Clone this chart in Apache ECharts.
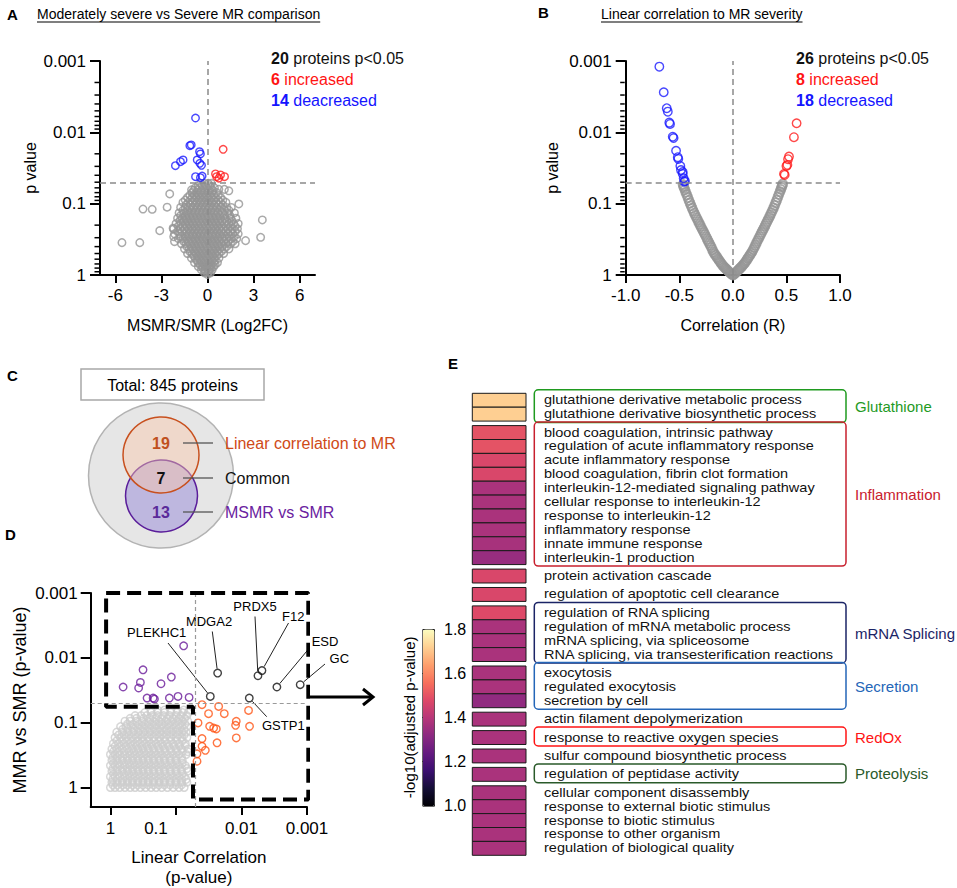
<!DOCTYPE html>
<html><head><meta charset="utf-8">
<script src="https://cdn.jsdelivr.net/npm/echarts@6/dist/echarts.min.js"></script>
<style>html,body{margin:0;padding:0;background:#fff}#main{width:957px;height:888px}</style>
</head><body><div id="main"></div>
<script>
// ---------------- DATA ----------------
// Panel A: [log2FC, p]
const aBlue = [[-0.78,0.0063],[-1.15,0.0154],[-1.06,0.015],[-0.52,0.0187],[-0.46,0.0201],[-0.67,0.0244],[-0.5,0.0272],[-0.39,0.029],[-2.09,0.0293],[-1.76,0.0258],[-1.59,0.0244],[-0.78,0.0418],[-0.35,0.041],[-0.46,0.0432]];
const aRed = [[1.02,0.0173],[0.52,0.0383],[0.85,0.0396],[1.11,0.0418],[0.74,0.044],[0.59,0.0418]];
const aGreyOutliers = [[-5.57,0.352],[-4.41,0.352],[-4.2,0.119],[-3.6,0.12],[-3.11,0.239],[-2.63,0.112],[-2.46,0.073],[-2.24,0.221],[-2.2,0.29],[-2.15,0.34],[3.57,0.169],[3.46,0.296],[2.48,0.33],[2.04,0.101],[1.39,0.066],[0.74,0.063],[-1.04,0.064],[1.1,0.063]];
// grey cloud, read as rows of points [p, [log2FC ...]]
const aGreyRows = [
 [0.052,[-0.45,-0.2,0.05,0.25]],
 [0.056,[-0.6,-0.35,-0.1,0.15]],
 [0.06,[-0.8,-0.55,-0.3,-0.05,0.2,0.45]],
 [0.065,[-0.9,-0.65,-0.4,-0.15,0.1,0.35]],
 [0.07,[-1.0,-0.7,-0.45,-0.2,0.05,0.3,0.6]],
 [0.076,[-1.15,-0.85,-0.6,-0.35,-0.1,0.15,0.4,0.7]],
 [0.082,[-1.3,-1.0,-0.75,-0.5,-0.25,0,0.25,0.5,0.85]],
 [0.089,[-1.45,-1.1,-0.85,-0.6,-0.35,-0.1,0.15,0.4,0.7,1.0]],
 [0.096,[-1.6,-1.25,-0.95,-0.7,-0.45,-0.2,0.05,0.3,0.55,0.85,1.2]],
 [0.104,[-1.4,-1.1,-0.8,-0.55,-0.3,-0.05,0.2,0.45,0.7,1.0]],
 [0.113,[-1.75,-1.45,-1.15,-0.9,-0.65,-0.4,-0.15,0.1,0.35,0.6,0.9,1.25,1.55]],
 [0.124,[-1.6,-1.3,-1.0,-0.75,-0.5,-0.25,0,0.25,0.5,0.8,1.1,1.4]],
 [0.135,[-1.85,-1.55,-1.3,-1.05,-0.8,-0.55,-0.3,-0.05,0.2,0.45,0.7,1.0,1.35,1.75]],
 [0.147,[-1.75,-1.45,-1.2,-0.95,-0.7,-0.45,-0.2,0.05,0.3,0.55,0.8,1.1,1.45]],
 [0.16,[-1.95,-1.65,-1.4,-1.15,-0.9,-0.65,-0.4,-0.15,0.1,0.35,0.6,0.85,1.15,1.5,1.85]],
 [0.175,[-1.8,-1.55,-1.3,-1.05,-0.8,-0.55,-0.3,-0.05,0.2,0.45,0.7,0.95,1.25,1.6]],
 [0.19,[-2.05,-1.75,-1.45,-1.2,-0.95,-0.7,-0.45,-0.2,0.05,0.3,0.55,0.8,1.1,1.4,1.7,2.0]],
 [0.207,[-1.9,-1.6,-1.35,-1.1,-0.85,-0.6,-0.35,-0.1,0.15,0.4,0.65,0.9,1.2,1.5,1.8]],
 [0.225,[-2.2,-1.8,-1.5,-1.25,-1.0,-0.75,-0.5,-0.25,0,0.25,0.5,0.75,1.0,1.3,1.6,1.95]],
 [0.245,[-1.95,-1.65,-1.35,-1.1,-0.85,-0.6,-0.35,-0.1,0.15,0.4,0.65,0.9,1.2,1.5,1.8]],
 [0.265,[-2.15,-1.8,-1.45,-1.2,-0.95,-0.7,-0.45,-0.2,0.05,0.3,0.55,0.8,1.05,1.35,1.65,2.0]],
 [0.287,[-1.75,-1.45,-1.2,-0.95,-0.7,-0.45,-0.2,0.05,0.3,0.55,0.8,1.1,1.4,1.75]],
 [0.31,[-1.9,-1.6,-1.3,-1.05,-0.8,-0.55,-0.3,-0.05,0.2,0.45,0.7,0.95,1.25,1.55,1.9]],
 [0.337,[-1.55,-1.25,-1.0,-0.75,-0.5,-0.25,0,0.25,0.5,0.75,1.05,1.35,1.65]],
 [0.365,[-1.7,-1.4,-1.1,-0.85,-0.6,-0.35,-0.1,0.15,0.4,0.65,0.9,1.2,1.5,1.8]],
 [0.397,[-1.35,-1.05,-0.8,-0.55,-0.3,-0.05,0.2,0.45,0.7,0.95,1.25]],
 [0.43,[-1.5,-1.2,-0.95,-0.7,-0.45,-0.2,0.05,0.3,0.55,0.8,1.1,1.4]],
 [0.465,[-1.15,-0.85,-0.6,-0.35,-0.1,0.15,0.4,0.65,0.9]],
 [0.5,[-1.3,-1.0,-0.75,-0.5,-0.25,0,0.25,0.5,0.75,1.05]],
 [0.54,[-0.9,-0.65,-0.4,-0.15,0.1,0.35,0.6]],
 [0.58,[-1.05,-0.8,-0.55,-0.3,-0.05,0.2,0.45,0.75]],
 [0.625,[-0.7,-0.45,-0.2,0.05,0.3,0.5]],
 [0.67,[-0.85,-0.6,-0.35,-0.1,0.15,0.4,0.65]],
 [0.715,[-0.5,-0.25,0,0.25,0.5]],
 [0.76,[-0.6,-0.35,-0.1,0.15,0.4]],
 [0.805,[-0.3,-0.05,0.2]],
 [0.85,[-0.4,-0.15,0.1,0.3]],
 [0.89,[-0.15,0.1]],
 [0.93,[-0.2,0.05,0.2]],
 [0.98,[0]]
];
const aCounts = ['20','6','14'];
const aCountTexts = [' proteins p<0.05',' increased',' deacreased'];

// Panel B: [R, p]
const bBlue = [[-0.686,0.0012],[-0.645,0.00274],[-0.617,0.00459],[-0.607,0.00513],[-0.593,0.00731],[-0.586,0.00762],[-0.561,0.0115],[-0.553,0.012],[-0.53,0.0181],[-0.514,0.0223],[-0.509,0.0236],[-0.49,0.0296],[-0.484,0.0337],[-0.468,0.0383],[-0.459,0.044],[-0.453,0.0491],[-0.447,0.048],[-0.468,0.036]];
const bRed = [[0.595,0.00745],[0.57,0.0117],[0.524,0.0219],[0.515,0.0238],[0.509,0.0286],[0.5,0.0296],[0.477,0.0383],[0.484,0.0395]];
const bGreyLeft = [[0,1.0],[-0.01,0.972],[-0.02,0.944],[-0.03,0.917],[-0.04,0.89],[-0.05,0.86],[-0.06,0.83],[-0.07,0.803],[-0.08,0.776],[-0.09,0.746],[-0.1,0.716],[-0.11,0.684],[-0.12,0.653],[-0.13,0.62],[-0.14,0.589],[-0.15,0.56],[-0.16,0.531],[-0.17,0.505],[-0.18,0.479],[-0.19,0.445],[-0.2,0.412],[-0.21,0.385],[-0.22,0.359],[-0.23,0.336],[-0.24,0.313],[-0.25,0.292],[-0.26,0.272],[-0.27,0.254],[-0.28,0.237],[-0.29,0.222],[-0.3,0.207],[-0.31,0.193],[-0.32,0.18],[-0.33,0.168],[-0.34,0.157],[-0.35,0.146],[-0.36,0.136],[-0.37,0.126],[-0.38,0.116],[-0.39,0.107],[-0.4,0.098],[-0.41,0.09],[-0.42,0.082],[-0.43,0.075],[-0.44,0.069],[-0.448,0.064],[-0.455,0.06],[-0.46,0.057],[-0.465,0.054]];
const bGreyRight = [[0.01,0.975],[0.02,0.95],[0.03,0.918],[0.04,0.885],[0.05,0.855],[0.06,0.825],[0.07,0.797],[0.08,0.77],[0.09,0.74],[0.1,0.71],[0.11,0.68],[0.12,0.65],[0.13,0.617],[0.14,0.585],[0.15,0.555],[0.16,0.525],[0.17,0.497],[0.18,0.47],[0.19,0.44],[0.2,0.41],[0.21,0.382],[0.22,0.355],[0.23,0.332],[0.24,0.31],[0.25,0.29],[0.26,0.27],[0.27,0.252],[0.28,0.235],[0.29,0.22],[0.3,0.205],[0.31,0.191],[0.32,0.178],[0.33,0.166],[0.34,0.155],[0.35,0.144],[0.36,0.134],[0.37,0.124],[0.38,0.115],[0.39,0.106],[0.4,0.097],[0.41,0.089],[0.42,0.081],[0.43,0.074],[0.44,0.068],[0.448,0.063],[0.455,0.059],[0.46,0.056],[0.465,0.053]];
const bCounts = ['26','8','18'];
const bCountTexts = [' proteins p<0.05',' increased',' decreased'];

// Panel C
const vennTotal = 845;
const vennCounts = [19, 7, 13];
const vennLabels = ['Linear correlation to MR', 'Common', 'MSMR vs SMR'];

// Panel D: [p (linear correlation), p (MMR vs SMR)]
const dPurple = [[0.0763,0.00653],[0.64,0.0282],[0.318,0.0153],[0.349,0.024],[0.371,0.0292],[0.169,0.0251],[0.1175,0.0198],[0.276,0.0417],[0.223,0.0417],[0.213,0.0432],[0.126,0.0417],[0.093,0.0394],[0.063,0.0408]];
const dCommonNames = ['PLEKHC1','MDGA2','PRDX5','F12','ESD','GC','GSTP1'];
const dCommon = [[0.0299,0.0394],[0.0231,0.0172],[0.0056,0.0189],[0.00487,0.0157],[0.00288,0.0282],[0.00127,0.026],[0.0076,0.0417]];
const dOrange = [[0.04,0.0528],[0.0223,0.0561],[0.0318,0.0727],[0.0183,0.0727],[0.046,0.101],[0.0306,0.114],[0.0266,0.121],[0.0242,0.125],[0.012,0.0955],[0.0123,0.11],[0.0078,0.0647],[0.00753,0.114],[0.04,0.176],[0.0236,0.205],[0.012,0.172],[0.04,0.232],[0.0356,0.267],[0.0477,0.303],[0.0477,0.394]];
// grey cloud as rows [p (MMR vs SMR), [p (linear) ...]]
const dGreyRows = [
 [1.0,[1.0,0.85,0.72,0.6,0.5,0.42,0.35,0.29,0.24,0.2,0.165,0.135,0.11,0.09,0.075]],
 [0.91,[0.92,0.78,0.65,0.55,0.46,0.385,0.32,0.265,0.22,0.182,0.15,0.123,0.1,0.082]],
 [0.83,[0.95,0.8,0.66,0.55,0.46,0.38,0.32,0.265,0.22,0.18,0.15,0.122,0.1,0.082,0.068]],
 [0.75,[0.92,0.78,0.65,0.55,0.46,0.385,0.32,0.265,0.22,0.182,0.15,0.123,0.1,0.082,0.07]],
 [0.68,[1.0,0.85,0.72,0.6,0.5,0.42,0.35,0.29,0.24,0.2,0.165,0.135,0.11,0.09,0.074]],
 [0.62,[0.9,0.75,0.62,0.52,0.44,0.37,0.31,0.26,0.215,0.178,0.147,0.12,0.098,0.08]],
 [0.56,[0.95,0.8,0.66,0.55,0.46,0.38,0.32,0.265,0.22,0.18,0.15,0.122,0.1,0.082,0.066]],
 [0.51,[0.92,0.78,0.65,0.55,0.46,0.385,0.32,0.265,0.22,0.182,0.15,0.123,0.1,0.082,0.068]],
 [0.46,[1.0,0.85,0.72,0.6,0.5,0.42,0.35,0.29,0.24,0.2,0.165,0.135,0.11,0.09,0.072]],
 [0.42,[0.9,0.75,0.62,0.52,0.44,0.37,0.31,0.26,0.215,0.178,0.147,0.12,0.098,0.08]],
 [0.38,[0.95,0.8,0.66,0.55,0.46,0.38,0.32,0.265,0.22,0.18,0.15,0.122,0.1,0.08]],
 [0.345,[0.92,0.78,0.65,0.55,0.46,0.385,0.32,0.265,0.22,0.182,0.15,0.123,0.1,0.082]],
 [0.31,[1.0,0.85,0.72,0.6,0.5,0.42,0.35,0.29,0.24,0.2,0.165,0.135,0.11,0.09,0.07]],
 [0.28,[0.9,0.75,0.62,0.52,0.44,0.37,0.31,0.26,0.215,0.178,0.147,0.12,0.098,0.08,0.066]],
 [0.255,[0.95,0.8,0.66,0.55,0.46,0.38,0.32,0.265,0.22,0.18,0.15,0.122,0.1,0.082,0.065]],
 [0.23,[0.85,0.7,0.58,0.48,0.4,0.33,0.275,0.23,0.19,0.157,0.13,0.107,0.088,0.072]],
 [0.21,[0.9,0.75,0.62,0.5,0.42,0.35,0.29,0.24,0.2,0.165,0.135,0.11,0.09,0.072]],
 [0.19,[0.8,0.66,0.55,0.46,0.38,0.315,0.26,0.215,0.178,0.147,0.12,0.098,0.08]],
 [0.17,[0.85,0.7,0.58,0.48,0.4,0.33,0.27,0.22,0.18,0.15,0.122,0.1,0.082,0.068]],
 [0.155,[0.75,0.62,0.52,0.43,0.36,0.3,0.245,0.2,0.165,0.137,0.112,0.092,0.075]],
 [0.14,[0.8,0.66,0.55,0.46,0.38,0.32,0.265,0.22,0.18,0.15,0.122,0.1,0.082,0.07]],
 [0.127,[0.65,0.54,0.44,0.36,0.3,0.245,0.2,0.165,0.137,0.112,0.092,0.075]],
 [0.115,[0.7,0.58,0.48,0.4,0.33,0.27,0.22,0.18,0.15,0.122,0.1,0.082,0.068]],
 [0.105,[0.55,0.45,0.37,0.3,0.245,0.2,0.163,0.133,0.109,0.089,0.073]],
 [0.095,[0.6,0.5,0.4,0.33,0.27,0.22,0.18,0.145,0.12,0.098,0.08,0.066]],
 [0.086,[0.5,0.4,0.31,0.25,0.2,0.165,0.135,0.11,0.09,0.074]],
 [0.078,[0.42,0.34,0.28,0.23,0.19,0.155,0.125,0.1,0.083,0.068]],
 [0.07,[0.3,0.24,0.19,0.15,0.12,0.097,0.079,0.065]],
 [0.064,[0.24,0.19,0.15,0.12,0.095,0.076,0.062]]
];
// outline of the "significant in either test" region, in -log10(p) units
const dRegionOutline = [[-0.066,3.0],[3.02,3.0],[3.02,-0.185],[1.26,-0.185],[1.26,1.246],[-0.066,1.246],[-0.066,3.0]];

// Panel E
const eTerms = [
 'glutathione derivative metabolic process','glutathione derivative biosynthetic process',
 'blood coagulation, intrinsic pathway','regulation of acute inflammatory response','acute inflammatory response',
 'blood coagulation, fibrin clot formation','interleukin-12-mediated signaling pathway','cellular response to interleukin-12',
 'response to interleukin-12','inflammatory response','innate immune response','interleukin-1 production',
 'protein activation cascade','regulation of apoptotic cell clearance',
 'regulation of RNA splicing','regulation of mRNA metabolic process','mRNA splicing, via spliceosome','RNA splicing, via transesterification reactions',
 'exocytosis','regulated exocytosis','secretion by cell',
 'actin filament depolymerization','response to reactive oxygen species','sulfur compound biosynthetic process','regulation of peptidase activity',
 'cellular component disassembly','response to external biotic stimulus','response to biotic stimulus','response to other organism','regulation of biological quality'];
const eValues = [1.72,1.72, 1.5,1.5,1.47,1.47,1.375,1.375,1.375,1.375,1.37,1.34, 1.47, 1.47, 1.48,1.375,1.375,1.375, 1.375,1.375,1.33, 1.375,1.375,1.375,1.375, 1.375,1.375,1.375,1.375,1.375];
const eBlockSizes = [2,10,1,1,4,3,1,1,1,1,5];
const eBlockLabels = ['Glutathione','Inflammation',null,null,'mRNA Splicing','Secretion',null,'RedOx',null,'Proteolysis',null];
const eScaleMin = 1.0, eScaleMax = 1.8;

// ---------------- STYLE / LAYOUT ----------------
const FONT = '"Liberation Sans", Arial, Helvetica, sans-serif';
const groupColors = {'Glutathione':'#1f9a1f','Inflammation':'#c8202e','mRNA Splicing':'#1b2466','Secretion':'#2466b8','RedOx':'#ff1414','Proteolysis':'#2a5a2a'};
const magma = ['#000004','#140e36','#3b0f70','#641a80','#8c2981','#b73779','#de4968','#f7705c','#fe9f6d','#fecf92','#fcfdbf'];
const E_GAP = 0.324;
const E_FONT = 14.5, E_SCALE_Y = 0.82;

const nl = p => -Math.log10(p);
const toLog = arr => arr.map(d => [d[0], nl(d[1])]);
const toLogXY = arr => arr.map(d => [nl(d[0]), nl(d[1])]);
const fmtP = v => { const k = Math.round(v); return Math.pow(10, -k).toFixed(Math.max(0, k)); };
const minorVals = [];
for (let k = 1; k <= 3; k++) for (let m = 2; m <= 9; m++) minorVals.push(k - Math.log10(m));

const aGrey = [];
aGreyRows.forEach(r => r[1].forEach(x => aGrey.push([x, nl(r[0])])));
toLog(aGreyOutliers).forEach(d => aGrey.push(d));
const bGrey = toLog(bGreyLeft.concat(bGreyRight));
const dGrey = [];
dGreyRows.forEach(r => r[1].forEach(x => dGrey.push([nl(x), nl(r[0])])));

// E row positions
const rowStart = []; const blockData = [];
let pos = 0;
eBlockSizes.forEach((n, bi) => {
  const s = pos;
  for (let i = 0; i < n; i++) { rowStart.push(pos); pos += 1; }
  blockData.push([1, s, pos]);
  if (bi < eBlockSizes.length - 1) pos += E_GAP;
});
const eTotal = pos;
const heatData = rowStart.map((y, i) => [0, y, eValues[i]]);

function lineAx(o) {
  return Object.assign({
    type: 'value', splitLine: {show: false},
    axisLine: {onZero: false, lineStyle: {color: '#000', width: 2}},
    nameTextStyle: {color: '#000', fontFamily: FONT, fontSize: 16}
  }, o);
}
const tickStyle = {color: '#000', width: 2};
const lab = (o) => Object.assign({color: '#000', fontSize: 17, fontFamily: FONT}, o);

const scatter = (xi, yi, data, color, size, z, bw) => ({
  type: 'scatter', xAxisIndex: xi, yAxisIndex: yi, data: data, symbol: 'circle', symbolSize: size,
  silent: true, z: z || 3,
  itemStyle: {color: 'rgba(0,0,0,0)', borderColor: color, borderWidth: bw || 1.4}
});
const refLines = (xi, yi, lines, color, dash, w) => ({
  type: 'line', xAxisIndex: xi, yAxisIndex: yi, data: [], z: 1, silent: true,
  markLine: {silent: true, symbol: ['none','none'], label: {show: false}, animation: false,
    lineStyle: {color: color, type: dash, width: w}, data: lines}
});

const chart = echarts.init(document.getElementById('main'), null, {renderer: 'svg'});
const option = {
  animation: false,
  backgroundColor: '#fff',
  textStyle: {fontFamily: FONT},
  grid: [
    {left: 100, top: 61, width: 215, height: 214},
    {left: 625.7, top: 61, width: 214.3, height: 214},
    {left: 90.7, top: 593, width: 216.3, height: 215},
    {left: 472.3, top: 393.3, width: 53.7, height: 462},
    {left: 422.3, top: 629, width: 11.7, height: 176.7}
  ],
  xAxis: [
    lineAx({gridIndex: 0, min: -7, max: 7,
      axisTick: {customValues: [-6,-3,0,3,6], length: 8, lineStyle: tickStyle},
      axisLabel: lab({customValues: [-6,-3,0,3,6], margin: 12}),
      name: 'MSMR/SMR (Log2FC)', nameLocation: 'middle', nameGap: 42}),
    lineAx({gridIndex: 1, min: -1, max: 1, interval: 0.5,
      axisTick: {length: 8, lineStyle: tickStyle},
      axisLabel: lab({margin: 12, formatter: v => v.toFixed(1)}),
      name: 'Correlation (R)', nameLocation: 'middle', nameGap: 42}),
    lineAx({gridIndex: 2, min: -0.301, max: 3,
      axisTick: {customValues: [0,1,2,3], length: 8, lineStyle: tickStyle},
      axisLabel: lab({customValues: [0,1,2,3], margin: 13,
        formatter: v => Math.round(v) === 1 ? '{s|' + fmtP(v) + '}' : fmtP(v),
        rich: {s: {padding: [0, 40, 0, 0], fontSize: 17, color: '#000', fontFamily: FONT}}}),
      name: 'Linear Correlation\n(p-value)', nameLocation: 'middle', nameGap: 40,
      nameTextStyle: {color: '#000', fontFamily: FONT, fontSize: 17, lineHeight: 20}}),
    {gridIndex: 3, type: 'value', min: 0, max: 1, show: false},
    {gridIndex: 4, type: 'value', min: 0, max: 1, show: false}
  ],
  yAxis: [
    lineAx({gridIndex: 0, min: 0, max: 3, interval: 1,
      axisTick: {length: 10, lineStyle: tickStyle},
      axisLabel: lab({margin: 14, formatter: fmtP}),
      name: 'p value', nameLocation: 'middle', nameGap: 62, nameRotate: 90}),
    lineAx({gridIndex: 1, min: 0, max: 3, interval: 1,
      axisTick: {length: 10, lineStyle: tickStyle},
      axisLabel: lab({margin: 14, formatter: fmtP}),
      name: 'p value', nameLocation: 'middle', nameGap: 65, nameRotate: 90}),
    lineAx({gridIndex: 2, min: -0.301, max: 3,
      axisTick: {customValues: [0,1,2,3], length: 10, lineStyle: tickStyle},
      axisLabel: lab({customValues: [0,1,2,3], margin: 13, formatter: fmtP}),
      name: 'MMR vs SMR (p-value)', nameLocation: 'middle', nameGap: 62, nameRotate: 90,
      nameTextStyle: {color: '#000', fontFamily: FONT, fontSize: 18}}),
    {gridIndex: 3, type: 'value', min: 0, max: eTotal, inverse: true, show: false},
    {gridIndex: 4, type: 'value', position: 'right', min: eScaleMin, max: eScaleMax, interval: 0.2,
      axisLine: {show: false, onZero: false}, axisTick: {show: false}, splitLine: {show: false},
      axisLabel: {color: '#000', fontSize: 16, fontFamily: FONT, margin: 10, formatter: v => v.toFixed(1)}},
    {gridIndex: 4, type: 'value', position: 'left', min: eScaleMin, max: eScaleMax,
      axisLine: {show: false, onZero: false}, axisLabel: {show: false}, splitLine: {show: false},
      axisTick: {inside: true, customValues: [1.2, 1.4, 1.6], length: 4, lineStyle: {color: '#111', width: 1}},
      name: '-log10(adjusted p-value)', nameLocation: 'middle', nameGap: 5, nameRotate: 90,
      nameTextStyle: {color: '#000', fontFamily: FONT, fontSize: 15}}
  ],
  visualMap: [{
    type: 'continuous', seriesIndex: 14, dimension: 2, min: eScaleMin, max: eScaleMax,
    inRange: {color: magma}, left: 422.3, top: 629, itemWidth: 11.7, itemHeight: 176.7,
    calculable: false, hoverLink: false, padding: 0, borderColor: '#222', borderWidth: 1,
    textStyle: {color: 'rgba(0,0,0,0)'}
  }],
  series: [
    refLines(0, 0, [{yAxis: nl(0.05)}, {xAxis: 0}], '#8a8a8a', [6, 4], 1.5),
    scatter(0, 0, aGrey, '#959595', 7.5, 2, 1.5),
    scatter(0, 0, toLog(aBlue), '#1a1aff', 7.5),
    scatter(0, 0, toLog(aRed), '#ff1a1a', 7.5),
    refLines(1, 1, [{yAxis: nl(0.05)}, {xAxis: 0}], '#8a8a8a', [6, 4], 1.5),
    scatter(1, 1, bGrey, '#959595', 9, 2, 1.8),
    scatter(1, 1, toLog(bBlue), '#1a1aff', 8.5),
    scatter(1, 1, toLog(bRed), '#ff1a1a', 8.5),
    refLines(2, 2, [{yAxis: nl(0.05)}, {xAxis: nl(0.05)}], '#9a9a9a', [4, 3], 1.2),
    scatter(2, 2, dGrey, '#cdcdcd', 7.5, 2, 1.5),
    scatter(2, 2, toLogXY(dPurple), '#6a1b9a', 7.5),
    scatter(2, 2, toLogXY(dOrange), '#ff5414', 7.5),
    scatter(2, 2, toLogXY(dCommon), '#111111', 7.5),
    {type: 'line', xAxisIndex: 2, yAxisIndex: 2, data: dRegionOutline, symbol: 'none', silent: true, clip: false, z: 5,
      lineStyle: {color: '#000', width: 4, type: [14, 7]}},
    {type: 'custom', xAxisIndex: 3, yAxisIndex: 3, data: heatData, encode: {x: 0, y: 1}, clip: false, silent: true,
      renderItem: function (params, api) {
        const y0 = api.value(1);
        const a = api.coord([0, y0]);
        const b = api.coord([1, y0 + 1]);
        return {type: 'group', children: [
          {type: 'rect', shape: {x: a[0], y: a[1], width: b[0] - a[0], height: b[1] - a[1]},
            style: {fill: api.visual('color'), stroke: '#1a1a1a', lineWidth: 1}},
          {type: 'text', x: b[0] + 18, y: (a[1] + b[1]) / 2, scaleY: E_SCALE_Y,
            style: {text: eTerms[params.dataIndex], fill: '#111', fontSize: E_FONT, fontFamily: FONT, align: 'left', verticalAlign: 'middle'}}
        ]};
      }},
    {type: 'custom', xAxisIndex: 3, yAxisIndex: 3, data: blockData, encode: {x: 0, y: 1}, clip: false, silent: true,
      renderItem: function (params, api) {
        const name = eBlockLabels[params.dataIndex];
        if (!name) return {type: 'group', children: []};
        const a = api.coord([1, api.value(1)]);
        const b = api.coord([1, api.value(2)]);
        const c = groupColors[name];
        const x0 = a[0] + 8.3, x1 = 846;
        return {type: 'group', children: [
          {type: 'rect', shape: {x: x0, y: a[1] - 3.5, width: x1 - x0, height: b[1] - a[1] + 5, r: 4},
            style: {fill: 'none', stroke: c, lineWidth: 1.5}},
          {type: 'text', x: 855, y: (a[1] + b[1]) / 2 - 0.5,
            style: {text: name, fill: c, fontSize: 15, fontFamily: FONT, align: 'left', verticalAlign: 'middle'}}
        ]};
      }}
  ]
};
chart.setOption(option);

// ---------------- annotations (graphic) ----------------
function textW(t, size, weight) {
  const c = document.createElement('canvas').getContext('2d');
  c.font = (weight || 'normal') + ' ' + size + 'px ' + FONT;
  return c.measureText(t).width;
}
const G = [];
const txt = (x, y, text, o) => G.push({type: 'text', x: x, y: y, silent: true,
  style: Object.assign({text: text, fill: '#000', fontSize: 16, fontFamily: FONT, align: 'left', verticalAlign: 'middle'}, o || {})});
const ln = (x1, y1, x2, y2, stroke, w) => G.push({type: 'line', silent: true, shape: {x1: x1, y1: y1, x2: x2, y2: y2}, style: {stroke: stroke, lineWidth: w}});

// minor (2..9 per decade) ticks of the p-value axes in panels A and B, placed through the axis scale
[[0, -7], [1, -1]].forEach(g => {
  minorVals.forEach(v => {
    const p = chart.convertToPixel({gridIndex: g[0]}, [g[1], v]);
    ln(p[0] - 5.5, p[1], p[0] - 1, p[1], '#000', 1.5);
  });
});

// panel letters and titles
txt(7, 14, 'A', {fontWeight: 'bold', fontSize: 15});
txt(538, 12, 'B', {fontWeight: 'bold', fontSize: 15});
txt(7, 375, 'C', {fontWeight: 'bold', fontSize: 15});
txt(5, 534, 'D', {fontWeight: 'bold', fontSize: 15});
txt(448, 363, 'E', {fontWeight: 'bold', fontSize: 15});
const titleA = 'Moderately severe vs Severe MR comparison';
const titleB = 'Linear correlation to MR severity';
txt(37, 14, titleA, {fontSize: 14});
ln(37, 22, 37 + textW(titleA, 14), 22, '#000', 1.2);
txt(601, 14, titleB, {fontSize: 14});
ln(601, 22, 601 + textW(titleB, 14), 22, '#000', 1.2);

// count annotations
const cntColors = ['#111', '#ff1414', '#1414ff'];
[[271, aCounts, aCountTexts], [796, bCounts, bCountTexts]].forEach(s => {
  s[1].forEach((n, i) => {
    txt(s[0], 58 + i * 21, '{b|' + n + '}' + s[2][i], {fill: cntColors[i],
      rich: {b: {fontWeight: 'bold', fontSize: 16, fontFamily: FONT, fill: cntColors[i]}}});
  });
});

// Venn (panel C)
G.push({type: 'rect', silent: true, shape: {x: 81, y: 369, width: 183, height: 31}, style: {fill: '#fff', stroke: '#a8a8a8', lineWidth: 1.5}});
txt(172.5, 385, 'Total: ' + vennTotal + ' proteins', {align: 'center'});
G.push({type: 'circle', silent: true, shape: {cx: 161, cy: 475.5, r: 72.5}, style: {fill: '#e6e6e6', stroke: '#b3b3b3', lineWidth: 1.5}});
G.push({type: 'circle', silent: true, shape: {cx: 161.5, cy: 496, r: 36}, style: {fill: 'rgba(150,135,215,0.5)', stroke: '#5a1d9a', lineWidth: 1.5}});
G.push({type: 'circle', silent: true, shape: {cx: 161, cy: 455, r: 38}, style: {fill: 'rgba(250,200,170,0.45)', stroke: '#c8501e', lineWidth: 1.5}});
const vennNumColors = ['#c0501e', '#111', '#5a2a9a'];
const vennLabColors = ['#cf4a17', '#111', '#6a22a0'];
const vennY = [443, 478, 512];
vennCounts.forEach((n, i) => {
  txt(161, vennY[i], String(n), {align: 'center', fontWeight: 'bold', fill: vennNumColors[i]});
  ln(183, vennY[i], 213, vennY[i], '#555', 1.3);
  txt(225, vennY[i], vennLabels[i], {fill: vennLabColors[i]});
});

// Panel D labels with leader lines
const dLabelPos = {
  PLEKHC1: {t: [156.7, 632.7], s: [168, 643]},
  MDGA2: {t: [209, 621], s: [212.3, 631.5]},
  PRDX5: {t: [255, 606.7], s: [255, 616.5]},
  F12: {t: [293.3, 616.7], s: [288.5, 623]},
  ESD: {t: [325, 641], s: [309, 648.5]},
  GC: {t: [339.3, 658.3], s: [325, 664]},
  GSTP1: {t: [283.3, 725], s: [266.7, 716.7]}
};
dCommonNames.forEach((name, i) => {
  const L = dLabelPos[name];
  const p = chart.convertToPixel({gridIndex: 2}, [nl(dCommon[i][0]), nl(dCommon[i][1])]);
  const dx = L.s[0] - p[0], dy = L.s[1] - p[1];
  const d = Math.sqrt(dx * dx + dy * dy) || 1;
  ln(L.s[0], L.s[1], p[0] + dx / d * 4.5, p[1] + dy / d * 4.5, '#222', 1);
  txt(L.t[0], L.t[1], name, {align: 'center', fontSize: 13});
});

// arrow from panel D to panel E
G.push({type: 'line', silent: true, shape: {x1: 310, y1: 697, x2: 372, y2: 697}, style: {stroke: '#000', lineWidth: 3}});
G.push({type: 'polyline', silent: true, shape: {points: [[363, 689], [373, 697], [363, 705]]}, style: {stroke: '#000', lineWidth: 3, fill: 'none'}});

chart.setOption({graphic: {elements: G}});
</script>
</body></html>
